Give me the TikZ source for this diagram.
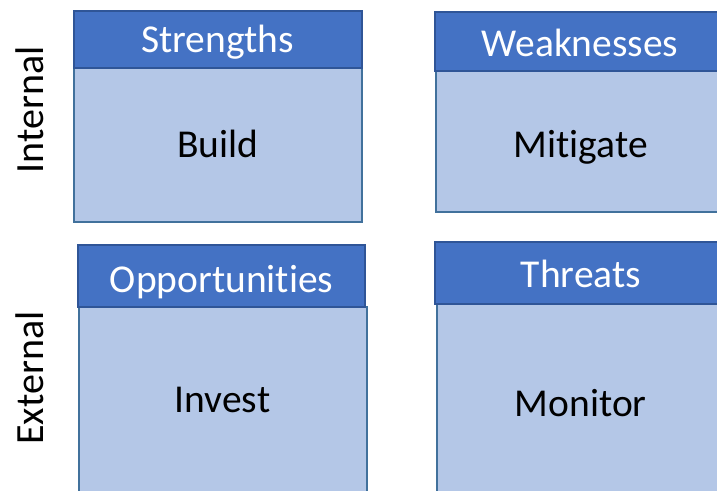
\documentclass[tikz,border=0pt]{standalone}
\usepackage{fontspec}
\setmainfont[Ligatures={NoCommon,NoContextual,NoRare}]{Carlito}
\definecolor{headfill}{HTML}{4472C4}
\definecolor{headline}{HTML}{2F5597}
\definecolor{bodyfill}{HTML}{B4C7E7}
\definecolor{bodyline}{HTML}{41719C}
\begin{document}
\begin{tikzpicture}[x=1pt,y=-1pt,
  head/.style={draw=headline,fill=headfill,line width=1.2pt,inner sep=0pt},
  body/.style={draw=bodyline,fill=bodyfill,line width=1.2pt,inner sep=0pt},
  headtext/.style={anchor=base,text=white,inner sep=0pt,
    font=\fontsize{39.5}{42}\selectfont},
  bodytext/.style={anchor=base,text=black,inner sep=0pt,
    font=\fontsize{39.5}{42}\selectfont},
  side/.style={rotate=90,font=\fontsize{40}{42}\selectfont,text=black}]
\useasboundingbox (0,0) rectangle (717,490);
\clip (0,0) rectangle (717,490);
% Strengths quadrant
\node[body,minimum width=288pt,minimum height=154pt] (sb) at (218,145) {};
\node[head,minimum width=288pt,minimum height=57pt] (sh) at (218,39.5) {};
\node[headtext] (st) at (217.5,52.7) {Strengths};
\node[bodytext] (sa) at (218,157.2) {Build};
% Weaknesses quadrant
\node[body,minimum width=289pt,minimum height=141pt] (wb) at (580.5,141.5) {};
\node[head,minimum width=290pt,minimum height=59pt] (wh) at (580,41.5) {};
\node[headtext] (wt) at (580,56.2) {Weaknesses};
\node[bodytext] (wa) at (580.8,157.2) {Mitigate};
% Opportunities quadrant
\node[body,minimum width=288pt,minimum height=186pt] (ob) at (223,400) {};
\node[head,minimum width=287pt,minimum height=62pt] (oh) at (221.5,276) {};
\node[headtext] (ot) at (221.7,292.2) {Opportunities};
\node[bodytext] (oa) at (222.5,412.7) {Invest};
% Threats quadrant
\node[body,minimum width=290pt,minimum height=198pt] (tb) at (582,403) {};
\node[head,minimum width=292pt,minimum height=62pt] (th) at (581,273) {};
\node[headtext] (tt) at (581,287.2) {Threats};
\node[bodytext] (ta) at (580.8,416.2) {Monitor};
% Row labels
\node[side] (internal) at (30,110) {Internal};
\node[side] (external) at (30,378) {External};
\end{tikzpicture}
\end{document}
